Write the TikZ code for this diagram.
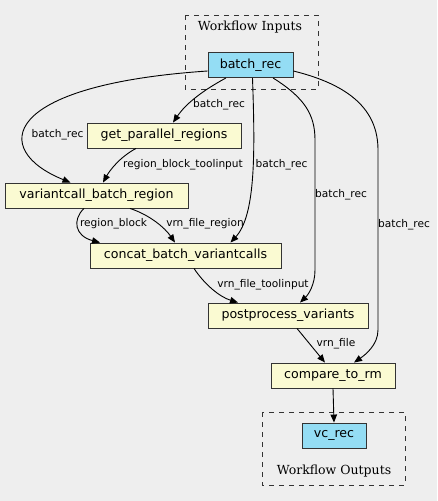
\documentclass[tikz,border=0pt]{standalone}
\usepackage{fontspec}
\setmainfont{DejaVu Serif}
\newfontfamily\gvsans{DejaVu Sans}
\usetikzlibrary{arrows.meta}
\definecolor{gvbg}{HTML}{EEEEEE}
\definecolor{stepfill}{HTML}{FAFAD2}
\definecolor{iofill}{HTML}{94DDF4}
\definecolor{gvline}{HTML}{333333}
\tikzset{
  gvbox/.style={draw=gvline, line width=0.9pt, minimum height=25pt, inner sep=0pt, font=\gvsans\fontsize{12.6}{14}\selectfont},
  stepbox/.style={gvbox, fill=stepfill},
  iobox/.style={gvbox, fill=iofill},
  lbl/.style={font=\gvsans\fontsize{10.6}{12}\selectfont, inner sep=1pt, text=black},
  flow/.style={line width=0.9pt, -{Triangle[length=8pt,width=6.5pt]}},
  cluster/.style={draw=gvline, line width=0.9pt, dash pattern=on 5pt off 5pt},
}
\begin{document}
\begin{tikzpicture}[x=1pt,y=-1pt]
        \fill[gvbg] (0,0) rectangle (437,501);
        \useasboundingbox (0,0) rectangle (437,501);
        % clusters
        \draw[cluster] (185,15) rectangle (318,89);
        \node[font=\fontsize{12.5}{14}\selectfont] (inlbl) at (250,27) {Workflow Inputs};
        \draw[cluster] (262,412) rectangle (405,485);
        \node[font=\fontsize{12.5}{14}\selectfont] (outlbl) at (334,471) {Workflow Outputs};
        % nodes
        \node[iobox, minimum width=85pt] (br) at (250.5,65) {batch\_rec};
        \node[stepbox, minimum width=154pt] (gp) at (164,135.5) {get\_parallel\_regions};
        \node[stepbox, minimum width=183pt] (vc) at (96.5,195.5) {variantcall\_batch\_region};
        \node[stepbox, minimum width=191pt] (cc) at (185.5,255.5) {concat\_batch\_variantcalls};
        \node[stepbox, minimum width=160pt] (pp) at (288,315.5) {postprocess\_variants};
        \node[stepbox, minimum width=124pt] (cr) at (333,375.5) {compare\_to\_rm};
        \node[iobox, minimum width=64pt] (vr) at (334,435.5) {vc\_rec};
        % edges
        \draw[flow] ([yshift=-6pt]br.west) .. controls (0,85) and (-10,150) .. ([xshift=-26pt]vc.north)
            node[lbl] at (57.5,135) {batch\_rec};
        \draw[flow] ([xshift=-24.5pt]br.south) .. controls (200,92) and (185,105) .. ([xshift=9pt]gp.north)
            node[lbl] at (219,105) {batch\_rec};
        \draw[flow] ([xshift=2pt]br.south) .. controls (255,150) and (256,215) .. ([xshift=45pt]cc.north)
            node[lbl] at (281.5,165) {batch\_rec};
        \draw[flow] ([xshift=22.5pt]br.south) .. controls (305,98) and (315,115) .. (315,140) -- (315,270)
            .. controls (315,285) and (308,295) .. ([xshift=12pt]pp.north)
            node[lbl] at (341,195) {batch\_rec};
        \draw[flow] ([yshift=-6pt]br.east) .. controls (350,85) and (378,110) .. (378,150) -- (378,330)
            .. controls (378,345) and (365,355) .. ([xshift=21pt]cr.north)
            node[lbl] at (404,225) {batch\_rec};
        \draw[flow] ([xshift=-28pt]gp.south) .. controls (120,157) and (110,170) .. ([xshift=6.5pt]vc.north)
            node[lbl] at (183,165) {region\_block\_toolinput};
        \draw[flow] ([xshift=-12.5pt]vc.south) .. controls (72,220) and (75,236) .. ([xshift=-85.5pt]cc.north)
            node[lbl] at (113.5,224) {region\_block};
        \draw[flow] ([xshift=33.5pt]vc.south) .. controls (150,215) and (165,228) .. ([xshift=-10.5pt]cc.north)
            node[lbl] at (205,224) {vrn\_file\_region};
        \draw[flow] ([xshift=8.5pt]cc.south) .. controls (205,285) and (220,297) .. ([xshift=-50pt]pp.north)
            node[lbl] at (263,285) {vrn\_file\_toolinput};
        \draw[flow] ([xshift=9pt]pp.south) -- ([xshift=-8pt]cr.north)
            node[lbl] at (336,344) {vrn\_file};
        \draw[flow] (cr.south) -- (vr.north);
\end{tikzpicture}
\end{document}
